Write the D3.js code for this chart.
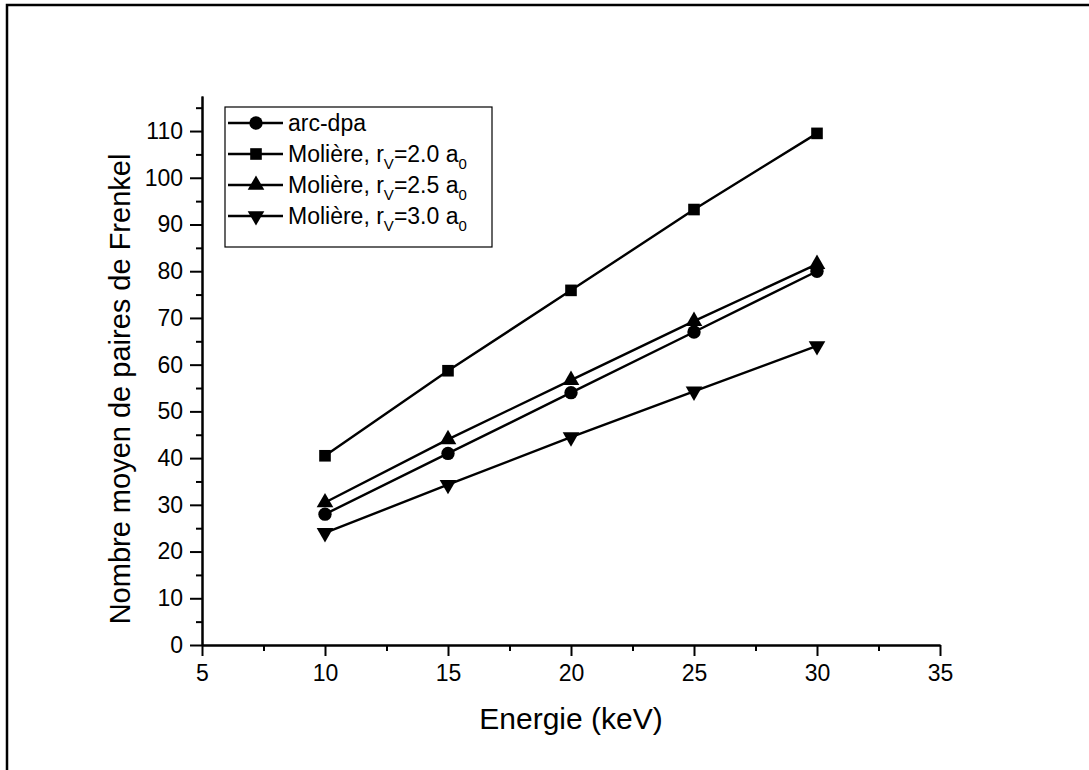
<!DOCTYPE html>
<html>
<head>
<meta charset="utf-8">
<script src="https://cdn.jsdelivr.net/npm/d3@7"></script>
<style>
  body { margin: 0; background: #fff; }
  svg { font-family: "Liberation Sans", Arial, sans-serif; }
</style>
</head>
<body>
<div id="chart"></div>
<script>
// data
const energies = [10, 15, 20, 25, 30];
const arcDpa = [28, 41, 54, 67, 80];
const moliere20 = [40.5, 58.7, 75.9, 93.2, 109.5];
const moliere25 = [30.5, 44, 56.7, 69.3, 81.5];
const moliere30 = [24, 34.3, 44.5, 54.3, 64];
const seriesNames = ["arc-dpa", "Molière 2.0", "Molière 2.5", "Molière 3.0"];
const xTicks = [5, 10, 15, 20, 25, 30, 35];
const yTicks = [0, 10, 20, 30, 40, 50, 60, 70, 80, 90, 100, 110];

const width = 1089, height = 770;
const margin = { top: 96, left: 202, right: 149, bottom: 125 };

const svg = d3.select("#chart").append("svg")
  .attr("width", width)
  .attr("height", height);

// outer frame (top and left only visible)
svg.append("path")
  .attr("d", `M7,${height} V5 H${width}`)
  .attr("fill", "none")
  .attr("stroke", "#000")
  .attr("stroke-width", 2.5);

const x = d3.scaleLinear().domain([5, 35]).range([margin.left, width - margin.right]);
const y = d3.scaleLinear().domain([0, 117.5]).range([height - margin.bottom, margin.top]);

const series = [
  { name: seriesNames[0], values: arcDpa, symbol: d3.symbolCircle, size: 140 },
  { name: seriesNames[1], values: moliere20, symbol: d3.symbolSquare, size: 135 },
  { name: seriesNames[2], values: moliere25, symbol: d3.symbolTriangle, size: 120 },
  { name: seriesNames[3], values: moliere30, symbol: d3.symbolTriangle, size: 120, flip: true }
];

// axes
const xAxis = svg.append("g")
  .attr("transform", `translate(0,${y(0)})`)
  .call(d3.axisBottom(x).tickValues(xTicks).tickSize(11).tickPadding(8).tickSizeOuter(0));
const xMinor = svg.append("g")
  .attr("transform", `translate(0,${y(0)})`)
  .call(d3.axisBottom(x).tickValues(d3.range(7.5, 35, 5)).tickSize(6).tickFormat("").tickSizeOuter(0));

const yAxis = svg.append("g")
  .attr("transform", `translate(${x(5)},0)`)
  .call(d3.axisLeft(y).tickValues(yTicks).tickSize(12).tickPadding(7).tickSizeOuter(0));
const yMinor = svg.append("g")
  .attr("transform", `translate(${x(5)},0)`)
  .call(d3.axisLeft(y).tickValues(d3.range(5, 120, 10)).tickSize(6).tickFormat("").tickSizeOuter(0));

[xAxis, xMinor, yAxis, yMinor].forEach(g => {
  g.selectAll("path, line").attr("stroke", "#000").attr("stroke-width", 2);
  g.selectAll("text").attr("fill", "#000").style("font-size", "23px");
});
xAxis.selectAll("text").attr("dy", "0.75em");

// axis titles
svg.append("text")
  .attr("x", (x(5) + x(35)) / 2)
  .attr("y", 729)
  .attr("text-anchor", "middle")
  .style("font-size", "30px")
  .text("Energie (keV)");

svg.append("text")
  .attr("transform", `translate(130,389) rotate(-90)`)
  .attr("text-anchor", "middle")
  .style("font-size", "29px")
  .text("Nombre moyen de paires de Frenkel");

// lines and markers
const line = d3.line()
  .x((d, i) => x(energies[i]))
  .y(d => y(d));

series.forEach(s => {
  svg.append("path")
    .datum(s.values)
    .attr("d", line)
    .attr("fill", "none")
    .attr("stroke", "#000")
    .attr("stroke-width", 2.4);

  svg.selectAll(null)
    .data(s.values)
    .join("path")
    .attr("d", d3.symbol().type(s.symbol).size(s.size))
    .attr("transform", (d, i) => `translate(${x(energies[i])},${y(d)})${s.flip ? " rotate(180)" : ""}`)
    .attr("fill", "#000");
});

// legend
const legend = svg.append("g").attr("transform", "translate(225,107)");
legend.append("rect")
  .attr("width", 267)
  .attr("height", 140)
  .attr("fill", "#fff")
  .attr("stroke", "#000")
  .attr("stroke-width", 1.2);

const labelParts = [
  [{ t: "arc-dpa" }],
  [{ t: "Molière, r" }, { t: "V", sub: true }, { t: "=2.0 a" }, { t: "0", sub: true }],
  [{ t: "Molière, r" }, { t: "V", sub: true }, { t: "=2.5 a" }, { t: "0", sub: true }],
  [{ t: "Molière, r" }, { t: "V", sub: true }, { t: "=3.0 a" }, { t: "0", sub: true }]
];

series.forEach((s, i) => {
  const row = legend.append("g").attr("transform", `translate(0,${16 + i * 31})`);
  row.append("line")
    .attr("x1", 3).attr("x2", 58)
    .attr("stroke", "#000").attr("stroke-width", 2.4);
  row.append("path")
    .attr("d", d3.symbol().type(s.symbol).size(s.size))
    .attr("transform", `translate(31,0)${s.flip ? " rotate(180)" : ""}`)
    .attr("fill", "#000");
  const txt = row.append("text")
    .attr("x", 63)
    .attr("dy", "0.36em")
    .style("font-size", "23px");
  labelParts[i].forEach((p, j) => {
    const ts = txt.append("tspan").text(p.t);
    if (p.sub) ts.style("font-size", "15px").attr("dy", 7);
    else if (j > 0) ts.attr("dy", -7);
  });
});
</script>
</body>
</html>
